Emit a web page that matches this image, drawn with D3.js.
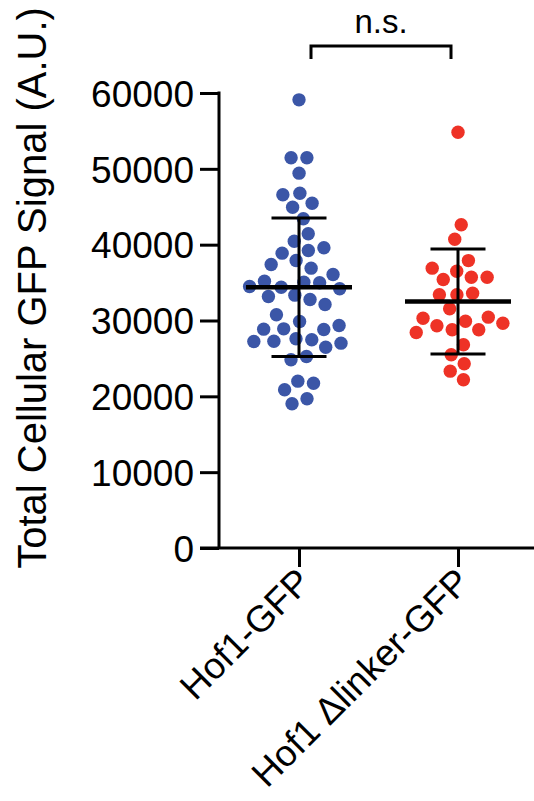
<!DOCTYPE html>
<html>
<head>
<meta charset="utf-8">
<script src="https://cdn.jsdelivr.net/npm/d3@7"></script>
<style>
  html, body { margin: 0; padding: 0; background: #fff; }
  svg { display: block; }
  text { font-family: "Liberation Sans", Arial, Helvetica, sans-serif; fill: #000; }
</style>
</head>
<body>
<svg id="chart" width="534" height="801"></svg>
<script>
// ---- data ----
const categories = ["Hof1-GFP", "Hof1 \u0394linker-GFP"];
const hof1Values = [59100, 51460, 51460, 49430, 46580, 46790, 44940, 45470, 43410,
  41430, 40460, 39230, 38880, 39590, 37380, 37910, 36900, 36070, 34480, 34180, 35050,
  34970, 35180, 34390, 33170, 32770, 33340, 32110, 30750, 29340, 29870, 28900, 28860,
  28810, 27230, 27460, 27590, 27010, 27270, 26480, 24820, 25250, 22000, 21730, 20860,
  19020, 19680];
const linkerValues = [54830, 42620, 40720, 37900, 36900, 35710, 35410, 35710, 36500,
  33600, 33390, 33390, 31540, 29640, 30300, 30440, 29910, 28780, 28420, 28780, 29300,
  26800, 25480, 24290, 23320, 22180];
const means = [34390, 32510];
const sds = [9140, 6930];
const yTicks = [0, 10000, 20000, 30000, 40000, 50000, 60000];
const yTitle = "Total Cellular GFP Signal (A.U.)";
const sigLabel = "n.s.";
const colors = ["#3B56A7", "#EE3226"];

// ---- scales ----
const svg = d3.select("#chart");
const y = d3.scaleLinear().domain([0, 60000]).range([548, 93]);
const x = d3.scalePoint().domain(categories).range([299, 458]);
const axisX = 219;

// ---- y axis ----
const yAxis = d3.axisLeft(y).tickValues(yTicks).tickFormat(d3.format("d"))
  .tickSize(19).tickSizeOuter(0).tickPadding(6);
const gy = svg.append("g").attr("transform", `translate(${axisX},0)`).call(yAxis);
gy.select(".domain").attr("stroke", "#000").attr("stroke-width", 3)
  .attr("d", `M0,${y(60000) - 1.5}V${y(0)}`);
gy.selectAll(".tick line").attr("stroke", "#000").attr("stroke-width", 3);
gy.selectAll(".tick text").attr("font-size", 37).attr("fill", "#000")
  .attr("font-family", "Liberation Sans, Arial, sans-serif").attr("dy", "0.36em");

// ---- x axis ----
const xAxis = d3.axisBottom(x).tickSize(19).tickSizeOuter(0).tickFormat("");
const gx = svg.append("g").attr("transform", `translate(0,${y(0)})`).call(xAxis);
gx.select(".domain").attr("stroke", "#000").attr("stroke-width", 3)
  .attr("d", `M200,0H534`);
gx.selectAll(".tick line").attr("stroke", "#000").attr("stroke-width", 3);

// x labels rotated
svg.append("g").selectAll("text").data(categories).join("text")
  .attr("transform", d => `translate(${x(d) + 14},${y(0) + 36}) rotate(-45)`)
  .attr("text-anchor", "end")
  .attr("font-size", 37)
  .text(d => d);

// y title
svg.append("text")
  .attr("transform", `translate(46,288) rotate(-90)`)
  .attr("text-anchor", "middle")
  .attr("font-size", 40)
  .text(yTitle);

// ---- swarm layout: y fixed by value, x resolved by collision ----
const r = 6.7;
function swarm(values, cx) {
  const nodes = values.map((v, i) => ({
    v, fy: y(v), y: y(v),
    x: cx + (i % 2 ? 1 : -1) * (i % 5) * 0.8
  }));
  const sim = d3.forceSimulation(nodes)
    .force("x", d3.forceX(cx).strength(0.05))
    .force("c", d3.forceCollide(7.9).strength(0.9).iterations(3))
    .stop();
  for (let i = 0; i < 400; i++) sim.tick();
  return nodes;
}

const groups = [hof1Values, linkerValues];
groups.forEach((vals, gi) => {
  const cx = x(categories[gi]);
  const pts = swarm(vals, cx);
  svg.append("g").selectAll("circle").data(pts).join("circle")
    .attr("cx", d => d.x).attr("cy", d => y(d.v)).attr("r", r)
    .attr("fill", colors[gi]);
});

// ---- mean & SD ----
categories.forEach((c, i) => {
  const cx = x(c);
  const g = svg.append("g").attr("stroke", "#000");
  g.append("line").attr("x1", cx).attr("x2", cx)
    .attr("y1", y(means[i] + sds[i])).attr("y2", y(means[i] - sds[i])).attr("stroke-width", 3);
  [means[i] + sds[i], means[i] - sds[i]].forEach(v => {
    g.append("line").attr("x1", cx - 27.5).attr("x2", cx + 27.5)
      .attr("y1", y(v)).attr("y2", y(v)).attr("stroke-width", 3);
  });
  g.append("line").attr("x1", cx - 53).attr("x2", cx + 53)
    .attr("y1", y(means[i])).attr("y2", y(means[i])).attr("stroke-width", 4.5);
});

// ---- significance bracket ----
const bx1 = x(categories[0]) + 12, bx2 = x(categories[1]) - 7;
svg.append("path")
  .attr("d", `M${bx1},59V46H${bx2}V59`)
  .attr("fill", "none").attr("stroke", "#000").attr("stroke-width", 3);
svg.append("text").attr("x", (bx1 + bx2) / 2).attr("y", 33)
  .attr("text-anchor", "middle").attr("font-size", 33).text(sigLabel);
</script>
</body>
</html>
